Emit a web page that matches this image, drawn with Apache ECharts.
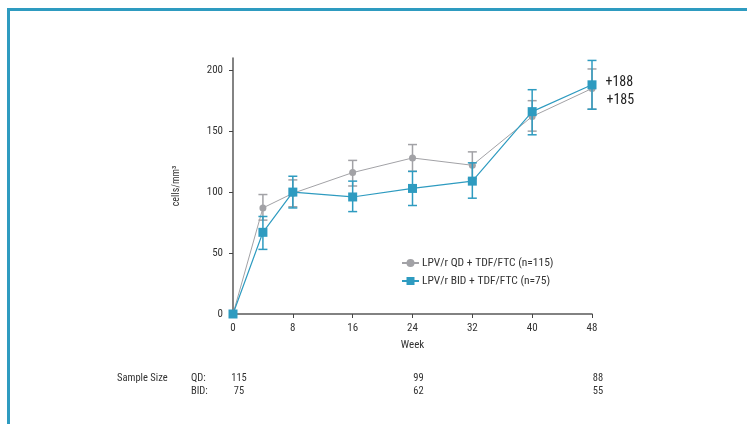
<!DOCTYPE html>
<html><head><meta charset="utf-8">
<script src="https://cdn.jsdelivr.net/npm/echarts@6/dist/echarts.min.js"></script>
<style>html,body{margin:0;padding:0;background:#fff}#c{width:747px;height:424px}</style>
</head><body><div id="c"></div>
<script>
const weeks = [0, 4, 8, 16, 24, 32, 40, 48];
const qdMean = [0, 87, 99, 116, 128, 122, 162, 185];
const qdLow  = [0, 77, 88, 105, 117, 111, 150, 168];
const qdHigh = [0, 98, 110, 126, 139, 133, 175, 201];
const bidMean = [0, 67, 100, 96, 103, 109, 166, 188];
const bidLow  = [0, 53, 87, 84, 89, 95, 147, 168];
const bidHigh = [0, 80, 113, 109, 117, 124, 184, 208];
const xTicks = [0, 8, 16, 24, 32, 40, 48];
const yTicks = [0, 50, 100, 150, 200];
const sampleWeeks = [0, 24, 48];
const sampleQD = [115, 99, 88];
const sampleBID = [75, 62, 55];
const qdName = 'LPV/r QD + TDF/FTC (n=115)';
const bidName = 'LPV/r BID + TDF/FTC (n=75)';
const endLabels = ['+188', '+185'];

const GRAY = '#a2a2a6', BLUE = '#2e9bc0', FONT = '"Liberation Sans Narrow","Roboto Condensed","Liberation Sans",sans-serif';
const chart = echarts.init(document.getElementById('c'));

function errSeries(name, low, high, color, z) {
  return {
    type: 'custom', name: name + '_err', z: z, silent: true,
    data: weeks.map((w, i) => [w, low[i], high[i]]),
    renderItem: function (params, api) {
      const x = api.value(0);
      if (api.value(1) === api.value(2)) return null;
      const lo = api.coord([x, api.value(1)]);
      const hi = api.coord([x, api.value(2)]);
      const hw = 4.5;
      const st = { stroke: color, lineWidth: 1.5 };
      return { type: 'group', children: [
        { type: 'line', shape: { x1: lo[0], y1: lo[1], x2: hi[0], y2: hi[1] }, style: st },
        { type: 'line', shape: { x1: lo[0] - hw, y1: lo[1], x2: lo[0] + hw, y2: lo[1] }, style: st },
        { type: 'line', shape: { x1: hi[0] - hw, y1: hi[1], x2: hi[0] + hw, y2: hi[1] }, style: st }
      ]};
    }
  };
}

const option = {
  animation: false,
  textStyle: { fontFamily: FONT },
  grid: { left: 233, right: 155, top: 58, bottom: 110, containLabel: false },
  xAxis: {
    type: 'value', min: 0, max: 48, interval: 8,
    name: 'Week', nameLocation: 'middle', nameGap: 26,
    nameTextStyle: { fontSize: 11, color: '#333', fontFamily: FONT },
    axisLine: { show: true, lineStyle: { color: '#5a5a5a', width: 1.5 } },
    axisTick: { show: true, length: 4, inside: false, lineStyle: { color: '#444' } },
    axisLabel: { fontSize: 11, color: '#333', margin: 9, fontFamily: FONT },
    splitLine: { show: false }
  },
  yAxis: {
    type: 'value', min: 0, max: 210,
    name: 'cells/mm³', nameLocation: 'middle', nameGap: 52, nameRotate: 90,
    nameTextStyle: { fontSize: 10, color: '#333', fontFamily: FONT },
    axisLine: { show: true, lineStyle: { color: '#5a5a5a', width: 1.5 } },
    axisTick: { show: true, length: 4, customValues: yTicks, lineStyle: { color: '#444' } },
    axisLabel: { fontSize: 11, color: '#333', margin: 10, customValues: yTicks, fontFamily: FONT },
    splitLine: { show: false }
  },
  legend: {
    left: 396, top: 252, orient: 'vertical', itemGap: 6, itemWidth: 17, itemHeight: 10,
    textStyle: { fontSize: 11.5, color: '#333', fontFamily: FONT, padding: [0, 0, 0, -2] },
    data: [qdName, bidName]
  },
  series: [
    errSeries('qd', qdLow, qdHigh, GRAY, 2),
    {
      type: 'line', name: qdName, z: 3,
      data: weeks.map((w, i) => i === weeks.length - 1 ? {
        value: [w, qdMean[i]],
        label: { show: true, formatter: endLabels[1], position: 'right', offset: [6, 12], fontSize: 14, color: '#222', fontFamily: FONT }
      } : [w, qdMean[i]]),
      symbol: 'circle', symbolSize: 7,
      lineStyle: { color: GRAY, width: 1 }, itemStyle: { color: GRAY }
    },
    errSeries('bid', bidLow, bidHigh, BLUE, 4),
    {
      type: 'line', name: bidName, z: 5,
      data: weeks.map((w, i) => i === weeks.length - 1 ? {
        value: [w, bidMean[i]],
        label: { show: true, formatter: endLabels[0], position: 'right', offset: [4, -2], fontSize: 14, color: '#222', fontFamily: FONT }
      } : [w, bidMean[i]]),
      symbol: 'rect', symbolSize: 9,
      lineStyle: { color: BLUE, width: 1.2 }, itemStyle: { color: BLUE }
    }
  ]
};
chart.setOption(option);

const g = [
  { type: 'rect', shape: { x: 7, y: 8, width: 740, height: 3 }, style: { fill: '#2e9bc0' } },
  { type: 'rect', shape: { x: 7, y: 8, width: 3, height: 416 }, style: { fill: '#2e9bc0' } },
  { type: 'text', left: 117, top: 373, style: { text: 'Sample Size', fontSize: 10.5, fill: '#333', fontFamily: FONT } },
  { type: 'text', left: 191, top: 373, style: { text: 'QD:', fontSize: 10.5, fill: '#333', fontFamily: FONT } },
  { type: 'text', left: 191, top: 386, style: { text: 'BID:', fontSize: 10.5, fill: '#333', fontFamily: FONT } }
];
sampleWeeks.forEach((w, i) => {
  const px = chart.convertToPixel({ xAxisIndex: 0 }, w);
  g.push({ type: 'text', x: px + 6, y: 373, style: { text: String(sampleQD[i]), fontSize: 10.5, fill: '#333', align: 'center', fontFamily: FONT } });
  g.push({ type: 'text', x: px + 6, y: 386, style: { text: String(sampleBID[i]), fontSize: 10.5, fill: '#333', align: 'center', fontFamily: FONT } });
});
chart.setOption({ graphic: g });
</script></body></html>
